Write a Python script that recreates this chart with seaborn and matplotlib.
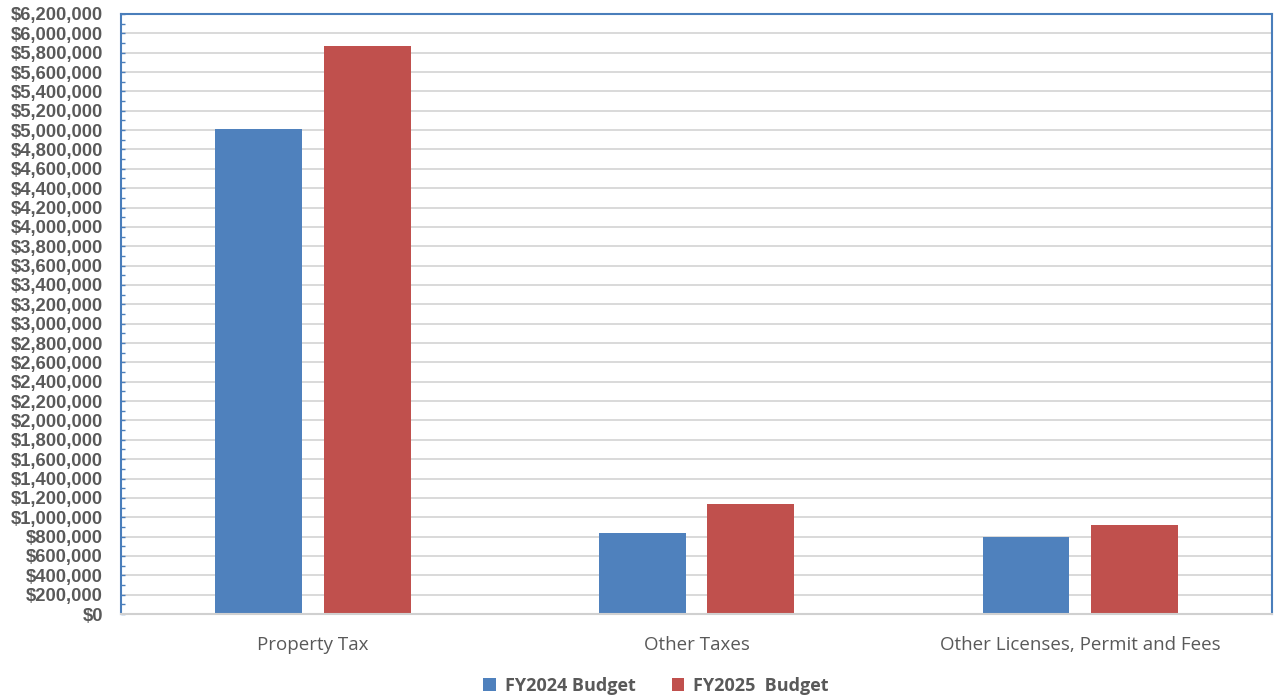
import matplotlib
matplotlib.use("Agg")
import matplotlib.pyplot as plt
from matplotlib.ticker import MultipleLocator, FuncFormatter
import seaborn as sns
import pandas as pd

categories = ["Property Tax", "Other Taxes", "Other Licenses, Permit and Fees"]
series_names = ["FY2024 Budget", "FY2025  Budget"]
fy2024 = [5010000, 840000, 800000]
fy2025 = [5870000, 1140000, 920000]
colors = ["#4f81bd", "#c0504d"]

df = pd.DataFrame({
    "Category": categories * 2,
    "Series": [series_names[0]] * 3 + [series_names[1]] * 3,
    "Amount": fy2024 + fy2025,
})

sns.set_theme(style="white")
plt.rcParams["font.family"] = ["Liberation Sans", "DejaVu Sans"]

fig = plt.figure(figsize=(12.74, 6.98), dpi=100)
ax = fig.add_axes([0.095, 0.1203, 0.9035, 0.8597])

sns.barplot(data=df, x="Category", y="Amount", hue="Series",
            palette=colors, width=0.566, gap=0.2, saturation=1,
            edgecolor="none", ax=ax, legend=True)

ax.set_xlim(-0.5, 2.5)
ax.set_ylim(0, 6200000)
ax.yaxis.set_major_locator(MultipleLocator(200000))
ax.yaxis.set_minor_locator(MultipleLocator(100000))
ax.yaxis.set_major_formatter(FuncFormatter(lambda v, p: f"${v:,.0f}"))
ax.grid(axis="y", which="major", color="#d9d9d9", linewidth=1.4)
ax.set_axisbelow(True)

ax.tick_params(axis="y", which="both", direction="in", color="#4a7ebb",
               left=True, length=3, width=1, labelsize=13.2,
               labelcolor="#595959", pad=13)
ax.tick_params(axis="x", length=0, labelsize=13.5, labelcolor="#595959", pad=16)
for lab in ax.get_yticklabels():
    lab.set_fontweight("bold")
for lab in ax.get_xticklabels():
    lab.set_family(["Open Sans", "DejaVu Sans"])

for sp in ax.spines.values():
    sp.set_visible(True)
    sp.set_color("#4a7ebb")
    sp.set_linewidth(1.5)
ax.spines["bottom"].set_color("#d0d0d0")

ax.set_xlabel("")
ax.set_ylabel("")

handles, labels = ax.get_legend_handles_labels()
ax.legend_.remove()
fig.legend(handles, labels, loc="center", bbox_to_anchor=(0.515, 0.017),
           ncol=2, frameon=False, handlelength=0.7, handleheight=0.7,
           handletextpad=0.5, columnspacing=2.0,
           prop={"family": ["Open Sans", "DejaVu Sans"], "weight": "bold", "size": 13})
for t in fig.legends[0].get_texts():
    t.set_color("#595959")

fig.savefig("out.png", dpi=100)
